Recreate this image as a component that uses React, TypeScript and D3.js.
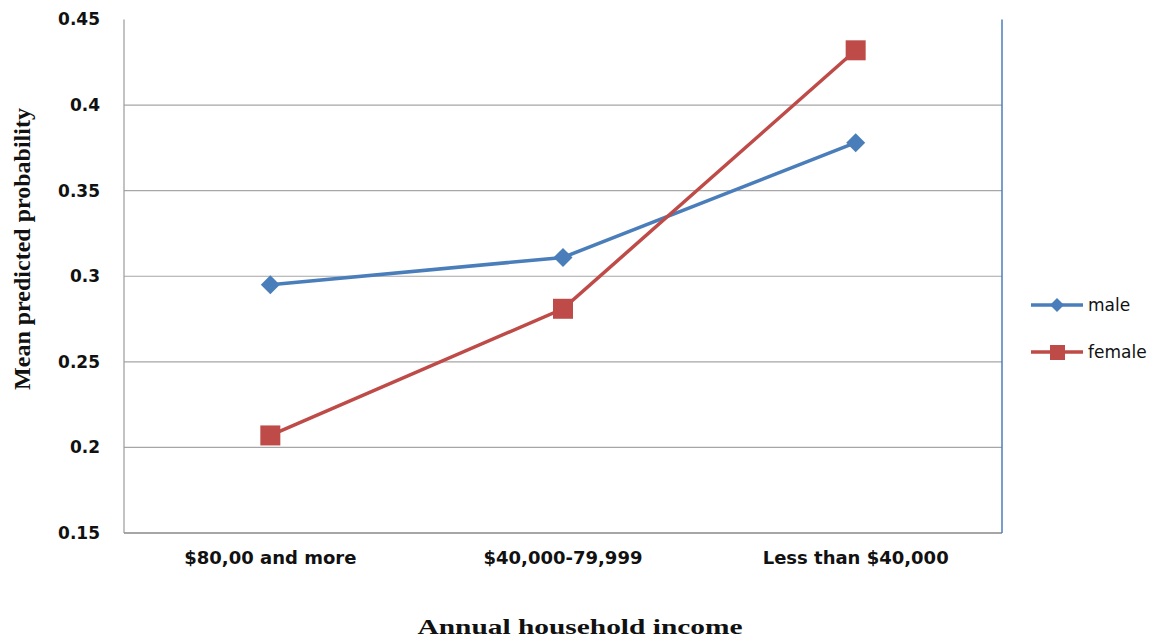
import React from "react";
import * as d3 from "d3";

const categories = ["$80,00 and more", "$40,000-79,999", "Less than $40,000"];
const maleValues = [0.295, 0.311, 0.378];
const femaleValues = [0.207, 0.281, 0.432];
const yTicks = [0.15, 0.2, 0.25, 0.3, 0.35, 0.4, 0.45];
const seriesNames = ["male", "female"];

const W = 1159, H = 639;
const left = 124, right = 1002, top = 19.5, bottom = 533;

export default function App() {
  const x = d3.scaleBand<string>().domain(categories).range([left, right]);
  const y = d3.scaleLinear().domain([0.15, 0.45]).range([bottom, top]);
  const cx = (c: string) => (x(c) as number) + x.bandwidth() / 2;
  const line = d3.line<number>().x((_, i) => cx(categories[i])).y((v) => y(v));
  const blue = "#4A7EBB";
  const red = "#BE4B48";
  const tickFont = "'DejaVu Sans', Verdana, sans-serif";
  const serif = "'Liberation Serif', 'Times New Roman', serif";
  const diamond = (px: number, py: number, r: number) =>
    `M${px},${py - r}L${px + r},${py}L${px},${py + r}L${px - r},${py}Z`;
  return (
    <svg width={W} height={H} style={{ position: "absolute", left: 0, top: 0, background: "#fff" }}>
      {yTicks.slice(1, -1).map((t) => (
        <line key={t} x1={left} x2={right} y1={y(t)} y2={y(t)} stroke="#a6a6a6" strokeWidth={1.2} />
      ))}
      <line x1={left} x2={left} y1={top} y2={bottom} stroke="#9a9a9a" strokeWidth={1.2} />
      <line x1={left} x2={right} y1={bottom} y2={bottom} stroke="#888" strokeWidth={1.5} />
      <line x1={right} x2={right} y1={top} y2={bottom} stroke={blue} strokeWidth={1.5} />
      {yTicks.map((t) => (
        <text key={t} x={100} y={y(t)} dy="0.35em" textAnchor="end" fontFamily={tickFont} fontWeight="bold" fontSize={17} fill="#111">
          {String(t)}
        </text>
      ))}
      {categories.map((c) => (
        <text key={c} x={cx(c)} y={564} textAnchor="middle" fontFamily={tickFont} fontWeight="bold" fontSize={18} fill="#111">
          {c}
        </text>
      ))}
      <path d={line(maleValues) as string} fill="none" stroke={blue} strokeWidth={3.5} />
      <path d={line(femaleValues) as string} fill="none" stroke={red} strokeWidth={3.5} />
      {maleValues.map((v, i) => (
        <path key={i} d={diamond(cx(categories[i]), y(v), 9.5)} fill={blue} />
      ))}
      {femaleValues.map((v, i) => (
        <rect key={i} x={cx(categories[i]) - 10} y={y(v) - 10} width={20} height={20} fill={red} />
      ))}
      <g>
        <line x1={1031} x2={1083} y1={305} y2={305} stroke={blue} strokeWidth={3.5} />
        <path d={diamond(1057, 305, 7)} fill={blue} />
        <text x={1088} y={305} dy="0.35em" fontFamily={tickFont} fontSize={17} fill="#111">{seriesNames[0]}</text>
        <line x1={1031} x2={1083} y1={352} y2={352} stroke={red} strokeWidth={3.5} />
        <rect x={1050} y={345} width={15} height={15} fill={red} />
        <text x={1088} y={352} dy="0.35em" fontFamily={tickFont} fontSize={17} fill="#111">{seriesNames[1]}</text>
      </g>
      <text transform={`translate(30,249) rotate(-90)`} textAnchor="middle" fontFamily={serif} fontWeight="bold" fontSize={24} fill="#111">
        Mean predicted probability
      </text>
      <text x={580} y={634} textAnchor="middle" fontFamily={serif} fontWeight="bold" fontSize={21} textLength={325} lengthAdjust="spacingAndGlyphs" fill="#111">
        Annual household income
      </text>
    </svg>
  );
}
